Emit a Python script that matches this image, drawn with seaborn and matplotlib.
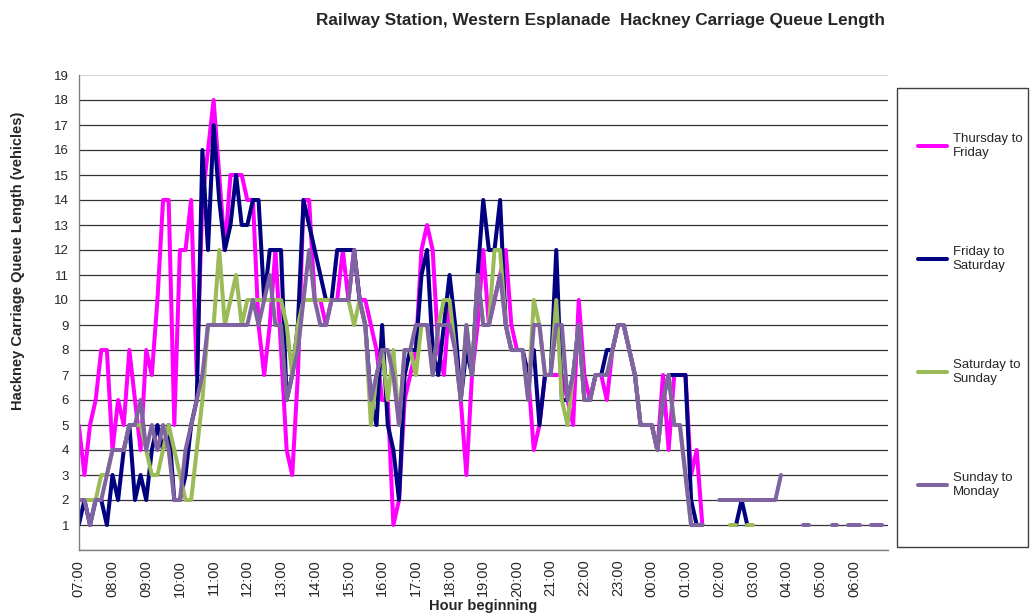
import numpy as np
import pandas as pd
import seaborn as sns
import matplotlib.pyplot as plt
from matplotlib.lines import Line2D
from matplotlib.patches import Rectangle

nan = np.nan

# 10-minute readings, 07:00 through 06:50 next day (144 per series)
thu_fri = [
    5, 3, 5, 6, 8, 8,
    4, 6, 5, 8, 6, 4,
    8, 7, 10, 14, 14, 5,
    12, 12, 14, 7, 14, 16,
    18, 15, 12, 15, 15, 15,
    14, 14, 9, 7, 9, 12,
    8, 4, 3, 7, 14, 14,
    10, 10, 9, 10, 10, 12,
    10, 12, 10, 10, 9, 8,
    6, 6, 1, 2, 6, 7,
    8, 12, 13, 12, 8, 7,
    10, 8, 6, 3, 7, 9,
    12, 9, 10, 11, 12, 9,
    8, 8, 7, 4, 5, 7,
    7, 7, 7, 6, 5, 10,
    7, 6, 7, 7, 6, 8,
    9, 9, 8, 7, 5, 5,
    5, 4, 7, 4, 7, 7,
    7, 3, 4, 1, nan, nan,
    nan, nan, nan, nan, nan, nan,
    nan, 2, 2, nan, nan, nan,
    nan, nan, nan, nan, nan, nan,
    nan, nan, nan, nan, nan, nan,
    nan, nan, nan, nan, nan, nan,
]

fri_sat = [
    1, 2, 1, 2, 2, 1,
    3, 2, 4, 5, 2, 3,
    2, 4, 5, 4, 5, 2,
    2, 3, 5, 6, 16, 12,
    17, 14, 12, 13, 15, 13,
    13, 14, 14, 10, 12, 12,
    12, 6, 7, 9, 14, 13,
    12, 11, 10, 10, 12, 12,
    12, 12, 10, 9, 6, 5,
    9, 5, 4, 2, 7, 8,
    8, 11, 12, 8, 7, 9,
    11, 9, 6, 8, 7, 11,
    14, 12, 12, 14, 9, 8,
    8, 8, 7, 8, 5, 7,
    7, 12, 6, 6, 7, 9,
    6, 6, 7, 7, 8, 8,
    9, 9, 8, 7, 5, 5,
    5, 4, 6, 7, 7, 7,
    7, 2, 1, 1, nan, nan,
    nan, nan, nan, 1, 2, 1,
    nan, nan, nan, nan, nan, nan,
    nan, nan, nan, nan, nan, nan,
    nan, nan, nan, nan, nan, nan,
    nan, nan, nan, nan, nan, nan,
]

sat_sun = [
    2, 2, 2, 2, 3, 3,
    4, 4, 4, 5, 5, 5,
    4, 3, 3, 4, 5, 4,
    3, 2, 2, 4, 6, 9,
    9, 12, 9, 10, 11, 9,
    10, 10, 10, 10, 10, 10,
    10, 9, 7, 9, 10, 10,
    10, 10, 10, 10, 10, 10,
    10, 9, 10, 9, 5, 7,
    8, 6, 8, 5, 8, 8,
    7, 9, 9, 7, 9, 10,
    10, 8, 6, 9, 7, 11,
    9, 9, 12, 12, 9, 8,
    8, 8, 6, 10, 9, 7,
    7, 10, 6, 5, 7, 9,
    6, 6, 7, 7, 7, 8,
    9, 9, 8, 7, 5, 5,
    5, 4, 6, 7, 5, 5,
    3, 1, 1, 1, nan, nan,
    nan, nan, 1, 1, nan, 1,
    1, nan, nan, nan, nan, nan,
    nan, nan, nan, nan, nan, nan,
    nan, nan, nan, nan, nan, nan,
    nan, nan, nan, nan, nan, nan,
]

sun_mon = [
    2, 2, 1, 2, 2, 3,
    4, 4, 4, 5, 5, 6,
    4, 5, 4, 5, 4, 2,
    2, 4, 5, 6, 7, 9,
    9, 9, 9, 9, 9, 9,
    9, 10, 9, 10, 11, 9,
    9, 6, 7, 8, 10, 12,
    10, 9, 9, 10, 10, 10,
    10, 12, 10, 9, 6, 7,
    8, 8, 7, 5, 8, 8,
    9, 9, 9, 7, 9, 9,
    9, 8, 6, 9, 7, 11,
    9, 9, 10, 11, 9, 8,
    8, 8, 6, 9, 9, 7,
    7, 9, 9, 6, 7, 9,
    6, 6, 7, 7, 7, 8,
    9, 9, 8, 7, 5, 5,
    5, 4, 6, 7, 5, 5,
    3, 1, 1, 1, nan, nan,
    2, 2, 2, 2, 2, 2,
    2, 2, 2, 2, 2, 3,
    nan, nan, nan, 1, 1, nan,
    nan, nan, 1, 1, nan, 1,
    1, 1, nan, 1, 1, 1,
]

series_names = ['Thursday to\nFriday', 'Friday to\nSaturday',
                'Saturday to\nSunday', 'Sunday to\nMonday']
series_colors = ['#FF00FF', '#000080', '#9BBB59', '#8064A2']

hour_labels = ['07:00', '08:00', '09:00', '10:00', '11:00', '12:00',
               '13:00', '14:00', '15:00', '16:00', '17:00', '18:00',
               '19:00', '20:00', '21:00', '22:00', '23:00', '00:00',
               '01:00', '02:00', '03:00', '04:00', '05:00', '06:00']

# build long table, split into segments where data is missing
hours = np.arange(144) / 6.0
parts = []
for name, vals in zip(series_names, [thu_fri, fri_sat, sat_sun, sun_mon]):
    v = np.array(vals, dtype=float)
    assert len(v) == 144, (name, len(v))
    seg = np.cumsum(np.isnan(v))
    ok = ~np.isnan(v)
    parts.append(pd.DataFrame({'t': hours[ok], 'v': v[ok], 'seg': seg[ok], 'series': name}))
df = pd.concat(parts, ignore_index=True)

sns.set_style('white')
plt.rcParams['font.family'] = ['Liberation Sans', 'DejaVu Sans']

fig = plt.figure(figsize=(10.33, 6.16), dpi=100)
ax = fig.add_axes([78.8 / 1033, 1 - 550 / 616, 808.9 / 1033, 475 / 616])

sns.lineplot(data=df, x='t', y='v', hue='series', hue_order=series_names,
             palette=dict(zip(series_names, series_colors)), units='seg',
             estimator=None, linewidth=2.9, legend=False, ax=ax,
             solid_joinstyle='round', solid_capstyle='round')

ax.set_xlim(0, 24)
ax.set_ylim(0, 19)
ax.set_xticks(range(25))
ax.set_xticklabels(hour_labels + [''], rotation=90, fontsize=10.5)
ax.set_yticks(range(20))
ax.set_yticklabels([''] + [str(i) for i in range(1, 20)], fontsize=9.5)
ax.tick_params(axis='both', direction='out', length=4, width=0.8, color='#808080', pad=3)
ax.set_xlabel('')
ax.set_ylabel('')

ax.set_axisbelow(True)
ax.yaxis.grid(True, color='#333333', linewidth=0.9)
ax.get_ygridlines()[-1].set_color('#d9d9d9')
for s in ['left', 'bottom']:
    ax.spines[s].set_color('#808080')
    ax.spines[s].set_linewidth(1)
ax.spines['right'].set_visible(False)
ax.spines['top'].set_visible(False)

fig.text(601 / 1033, 1 - 20 / 616,
         'Railway Station, Western Esplanade  Hackney Carriage Queue Length',
         fontsize=12.3, fontweight='bold', ha='center', va='center')
fig.text(18 / 1033, 1 - 261 / 616, 'Hackney Carriage Queue Length (vehicles)',
         fontsize=10.5, fontweight='bold', rotation=90, ha='center', va='center')
fig.text(483 / 1033, 1 - 606 / 616, 'Hour beginning',
         fontsize=10.5, fontweight='bold', ha='center', va='center')

# legend
handles = [Line2D([0], [0], color=c, lw=2.9) for c in series_colors]
fig.legend(handles, series_names, loc='upper left',
           bbox_to_anchor=(913 / 1033, 1 - 128 / 616), frameon=False,
           fontsize=9.5, labelspacing=6.6, handlelength=2.2, handletextpad=0.4,
           borderaxespad=0)
fig.patches.append(Rectangle((897 / 1033, 1 - 547 / 616), 131 / 1033, 459 / 616,
                             transform=fig.transFigure, fill=False,
                             edgecolor='#404040', linewidth=1))

fig.savefig('out.png', dpi=100)
